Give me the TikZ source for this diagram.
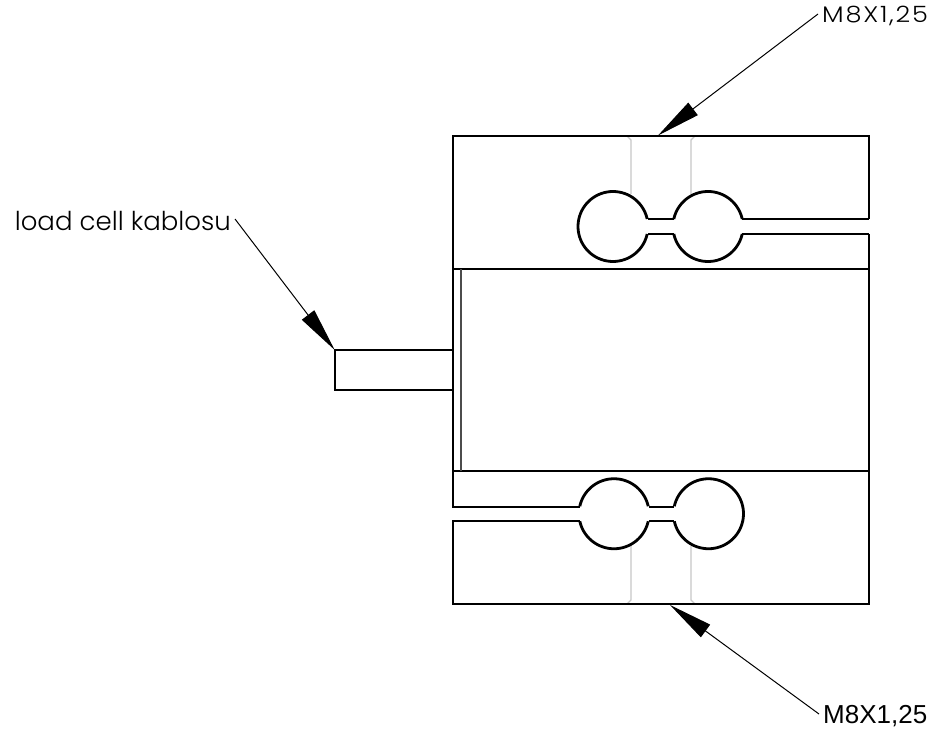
\documentclass[tikz,border=0pt]{standalone}
\usepackage{fontspec}
\usetikzlibrary{arrows.meta}
\newfontfamily\gothfont{Poppins Light}
\newfontfamily\gothwide[LetterSpace=7]{Poppins Light}
\setmainfont{Liberation Sans}
\tikzset{
  x=1pt,y=-1pt,
  outline/.style={draw=black,line width=2pt,line cap=butt,line join=miter},
  slotline/.style={draw=black,line width=2.8pt,line join=round},
  hidden/.style={draw=black!22,line width=1.2pt},
  inner/.style={draw=black!70,line width=2pt},
  leader/.style={draw=black,line width=1pt,-{Triangle[length=44pt,width=15.5pt]}},
  gothlabel/.style={font=\gothfont\fontsize{26}{30}\selectfont,text=black,inner ysep=0pt,inner xsep=4pt},
  gothtag/.style={font=\gothwide\fontsize{22.5}{26}\selectfont,text=black,inner ysep=0pt,inner xsep=4pt},
  arial/.style={font=\fontsize{26}{30}\selectfont,text=black,inner ysep=0pt,inner xsep=4pt},
}
\newcommand{\ringarc}[4]{\draw[slotline] plot[domain=#3:#4,samples=70,smooth] ({#1+35*cos(\x)},{#2+35*sin(\x)});}
\begin{document}
\begin{tikzpicture}
\useasboundingbox[fill=white] (0,0) rectangle (934,735);
% hidden lines
\draw[hidden] (627,136) -- (631,140) -- (631,194);
\draw[hidden] (695,136) -- (691,140) -- (691,194);
\draw[hidden] (627,604) -- (631,600) -- (631,546);
\draw[hidden] (695,604) -- (691,600) -- (691,546);
% block outline
\draw[outline] (869,219) -- (869,136) -- (453,136) -- (453,506.5) -- (580,506.5);
\draw[outline] (580,521) -- (453,521) -- (453,604.3) -- (869,604.3) -- (869,471);
\draw[outline] (869,234) -- (869,471);
\draw[outline] (453,269.5) -- (869,269.5);
\draw[outline] (453,470.7) -- (869,470.7);
\draw[inner] (460.7,269.5) -- (460.7,470.7);
% top slot
\draw[outline] (742,219) -- (869,219);
\draw[outline] (742,234) -- (869,234);
\draw[outline] (647.5,219) -- (673.5,219);
\draw[outline] (647.5,234) -- (673.5,234);
\ringarc{613}{226.5}{12.4}{347.6}
\ringarc{708}{226.5}{192.4}{347.6}
\ringarc{708}{226.5}{12.4}{167.6}
% bottom slot
\draw[outline] (648.5,506.5) -- (673.5,506.5);
\draw[outline] (648.5,521) -- (673.5,521);
\ringarc{614}{513.75}{192.4}{347.6}
\ringarc{614}{513.75}{12.4}{167.6}
\ringarc{708.5}{513.75}{-167.6}{167.6}
% cable
\node[outline,outer sep=0pt,minimum width=118.3pt,minimum height=40pt,inner sep=0pt,anchor=north west] (cable) at (334.7,350) {};
% labels
\node[gothtag,anchor=west] (lblTop) at (818,16) {\scalebox{1.14}[1]{M8X1,25}};
\node[arial,anchor=west] (lblBot) at (819,716) {M8X1,25};
\node[gothlabel,anchor=east] (lblCable) at (235,221) {load cell kablosu};
\coordinate (tipTop) at (658,135.5);
\coordinate (tipBot) at (670,605);
% connectors
\draw[leader] ([yshift=2pt]lblTop.west) -- (tipTop);
\draw[leader] ([yshift=2pt]lblBot.west) -- (tipBot);
\draw[leader] ([yshift=2pt]lblCable.east) -- (cable.north west);
\end{tikzpicture}
\end{document}
